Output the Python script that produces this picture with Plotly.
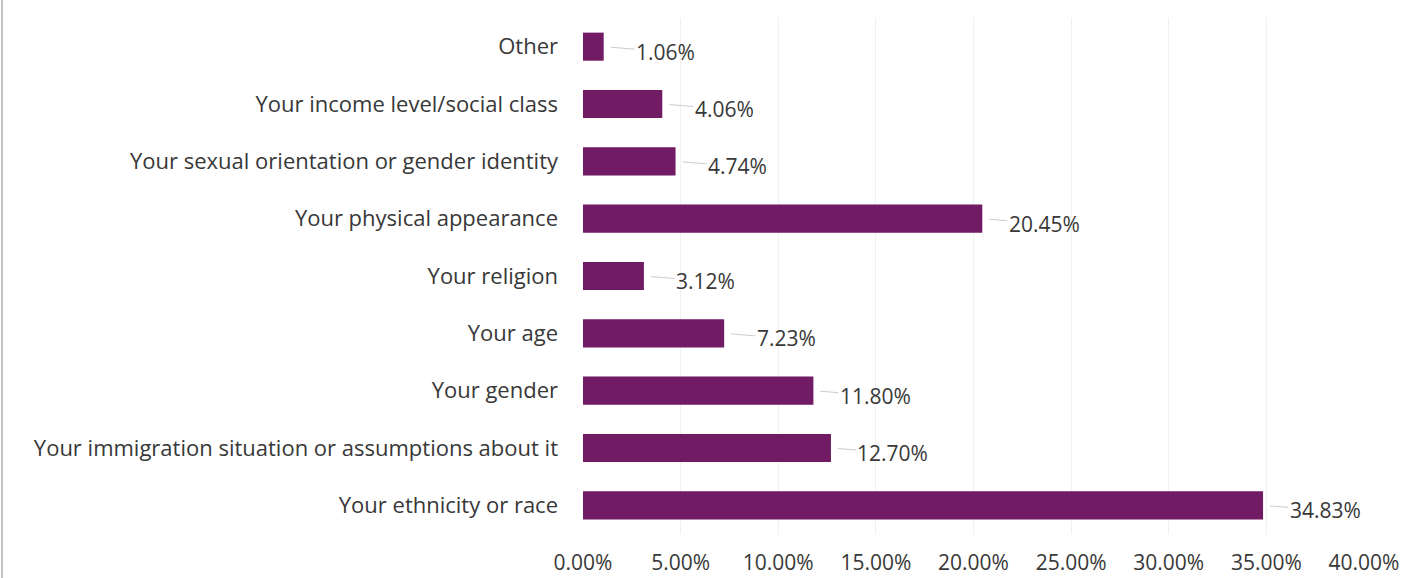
import plotly.graph_objects as go

categories = [
    "Your ethnicity or race",
    "Your immigration situation or assumptions about it",
    "Your gender",
    "Your age",
    "Your religion",
    "Your physical appearance",
    "Your sexual orientation or gender identity",
    "Your income level/social class",
    "Other",
]
percentages = [34.83, 12.70, 11.80, 7.23, 3.12, 20.45, 4.74, 4.06, 1.06]
x_ticks = [0, 5, 10, 15, 20, 25, 30, 35, 40]
x_tick_labels = [f"{v:.2f}%" for v in x_ticks]

BAR_COLOR = "#721b65"
TEXT_COLOR = "#383838"
FONT = "'Open Sans', sans-serif"
FONT_SIZE = 22

fig = go.Figure(
    go.Bar(
        x=percentages,
        y=categories,
        orientation="h",
        marker=dict(color=BAR_COLOR, line=dict(width=0)),
        width=0.49,
        hoverinfo="skip",
    )
)

# value labels with a short leader line back to the bar end
for cat, val in zip(categories, percentages):
    fig.add_annotation(
        x=val, y=cat, xref="x", yref="y",
        text=f"{val:.2f}%",
        showarrow=True, arrowhead=0, arrowwidth=1, arrowcolor="#cccccc",
        ax=62, ay=5, standoff=7,
        font=dict(family=FONT, size=FONT_SIZE - 1, color=TEXT_COLOR),
    )

W, H = 1408, 578
ML, MR, MT, MB = 583, 44, 18, 44

# thin frame line along the left edge of the page
fig.add_shape(
    type="line", xref="paper", yref="paper",
    x0=(2 - ML) / (W - ML - MR), x1=(2 - ML) / (W - ML - MR),
    y0=-MB / (H - MT - MB), y1=1 + MT / (H - MT - MB),
    line=dict(color="#c4c4c4", width=2),
)

fig.update_layout(
    width=W, height=H,
    margin=dict(l=ML, r=MR, t=MT, b=MB),
    paper_bgcolor="white", plot_bgcolor="white",
    showlegend=False,
    font=dict(family=FONT, size=FONT_SIZE, color=TEXT_COLOR),
    xaxis=dict(
        range=[0, 40], tickvals=x_ticks, ticktext=x_tick_labels,
        showgrid=True, gridcolor="#f0f0f0", gridwidth=1,
        zeroline=False, showline=False, ticks="",
        tickfont=dict(family=FONT, size=FONT_SIZE - 1, color=TEXT_COLOR),
        ticklabelstandoff=14, automargin=False,
    ),
    yaxis=dict(
        categoryorder="array", categoryarray=categories,
        showgrid=False, zeroline=False, showline=False, ticks="",
        tickfont=dict(family=FONT, size=FONT_SIZE, color=TEXT_COLOR),
        ticklabelstandoff=24, automargin=False,
    ),
    bargap=0.5,
)

fig.write_html("out.html")
